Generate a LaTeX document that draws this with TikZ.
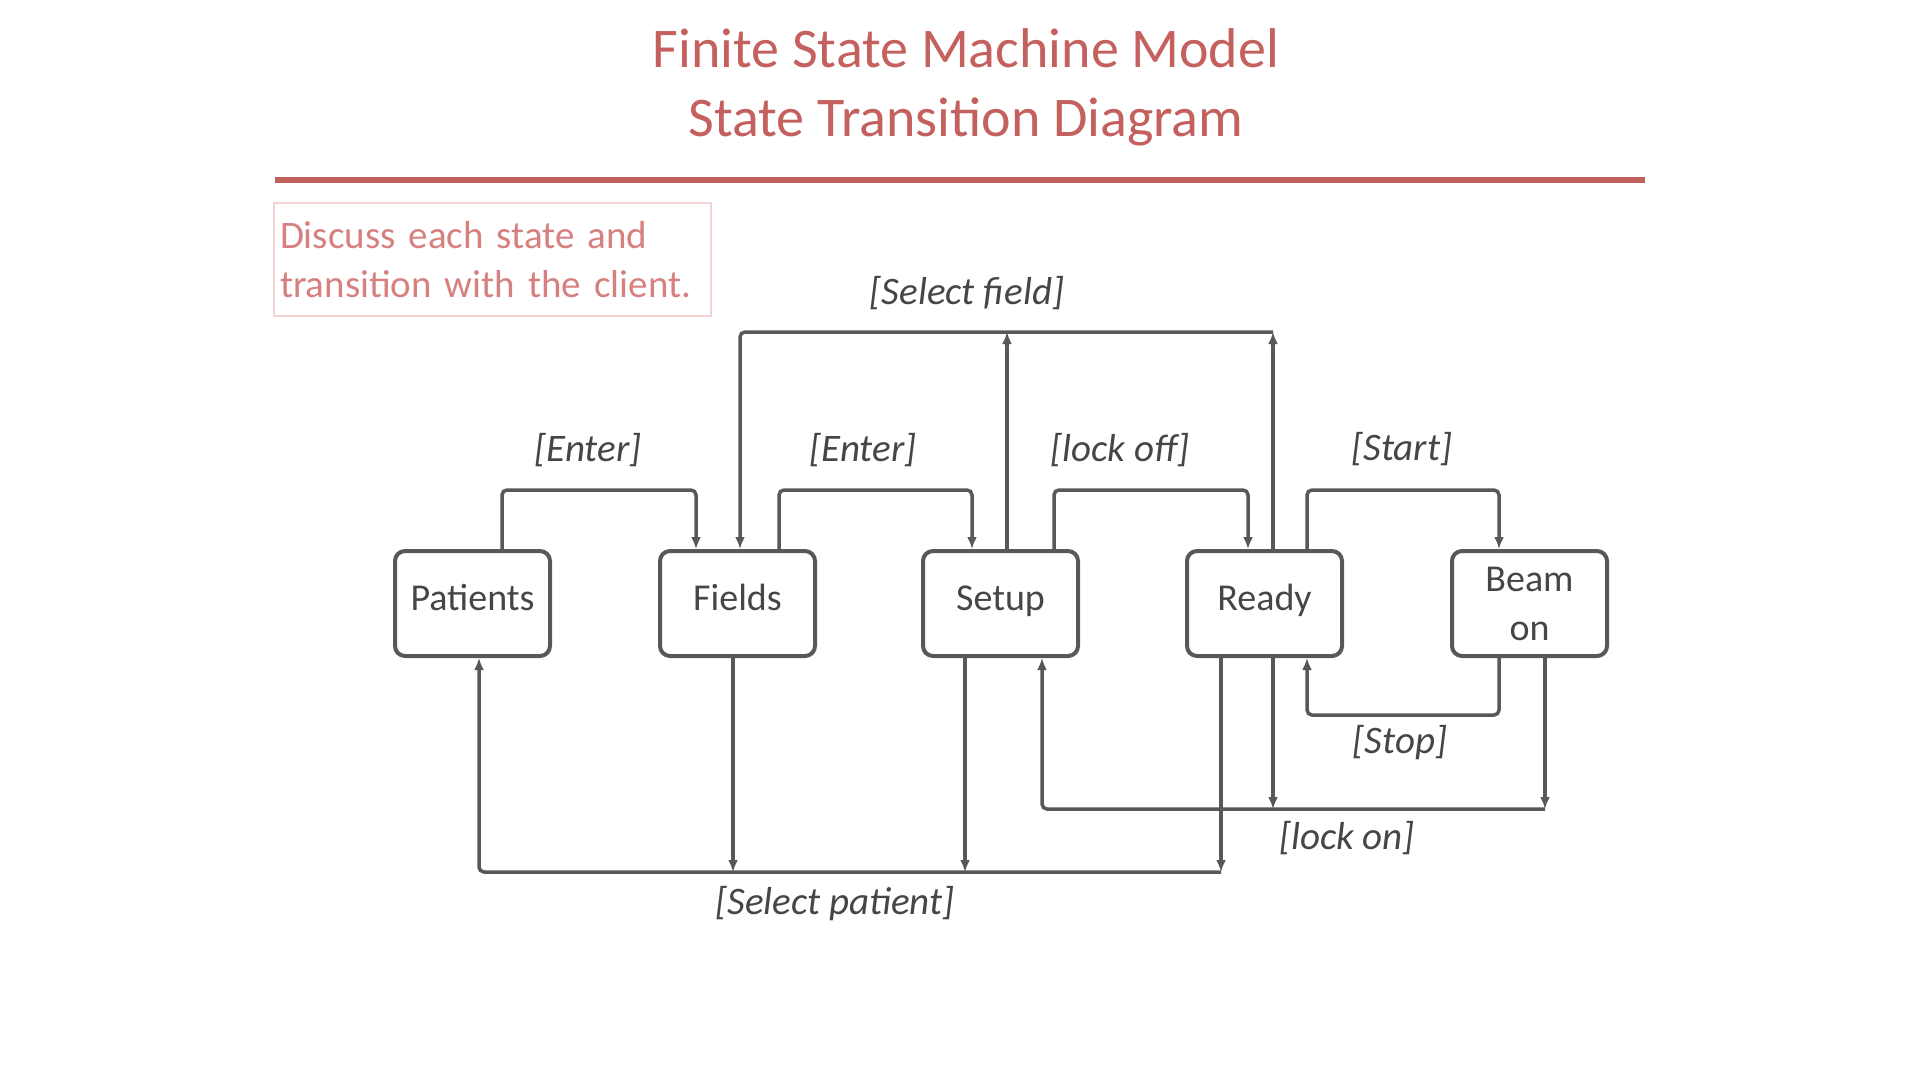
\documentclass[tikz,border=0pt]{standalone}
\usepackage{fontspec}
\setmainfont{Carlito}
\usetikzlibrary{arrows.meta}
\definecolor{titlered}{RGB}{196,96,94}
\definecolor{rulered}{RGB}{192,98,92}
\definecolor{notered}{RGB}{214,128,128}
\definecolor{noteborder}{RGB}{242,212,212}
\definecolor{linegray}{RGB}{88,88,88}
\definecolor{textgray}{RGB}{70,70,70}
\begin{document}
\begin{tikzpicture}[x=1pt,y=-1pt,
  state/.style={draw=linegray, line width=4pt, rounded corners=10pt, minimum width=155pt, minimum height=105pt, inner sep=0pt, font=\fontsize{38}{49}\selectfont, text=textgray, align=center},
  oneline/.style={text height=25pt, text depth=12pt},
  conn/.style={draw=linegray, line width=3.5pt, rounded corners=5pt},
  arrowed/.style={-{Latex[length=12pt,width=10pt]}},
  lbl/.style={font=\fontsize{39}{44}\selectfont\itshape, text=textgray},
  titletext/.style={font=\fontsize{56}{68}\selectfont, text=titlered, anchor=base}
]
\useasboundingbox[fill=white] (0,0) rectangle (1920,1080);

% title
\node[titletext] (title1) at (966,67) {Finite State Machine Model};
\node[titletext] (title2) at (966,136) {State Transition Diagram};
\draw[rulered, line width=6pt] (275,180) -- (1645,180);

% note
\node[draw=noteborder, line width=2pt, anchor=north west, minimum width=437pt, minimum height=113pt,
      text width=425pt, inner xsep=6pt, align=left, font=\fontsize{39}{49}\selectfont, text=notered]
      (note) at (273,202) {Discuss each state and\\transition with the client.};

% states
\node[state,oneline] (pat)  at (472.5,603.5) {Patients};
\node[state,oneline] (fld)  at (737.5,603.5) {Fields};
\node[state,oneline] (set)  at (1000.5,603.5) {Setup};
\node[state,oneline] (rdy)  at (1264.5,603.5) {Ready};
\node[state] (beam) at (1529.5,603.5) {Beam\\on};

% top Enter / lock off / Start
\coordinate (e1) at (600,490);
\coordinate (e2) at (870,490);
\coordinate (e3) at (1150,490);
\coordinate (e4) at (1400,490);
\draw[conn,arrowed] ([xshift=29.5pt]pat.north) |- (e1) -| ([xshift=-41.5pt]fld.north);
\draw[conn,arrowed] ([xshift=41.5pt]fld.north) |- (e2) -| ([xshift=-28.5pt]set.north);
\draw[conn,arrowed] ([xshift=53.5pt]set.north) |- (e3) -| ([xshift=-16.5pt]rdy.north);
\draw[conn,arrowed] ([xshift=42.5pt]rdy.north) |- (e4) -| ([xshift=-30.5pt]beam.north);

% Select field
\coordinate (sfR) at (1273,332);
\coordinate (sfM) at (1007,332);
\coordinate (sfL) at (740,332);
\draw[conn,arrowed] ([xshift=8.5pt]rdy.north) -- (sfR);
\draw[conn,arrowed] ([xshift=6.5pt]set.north) -- (sfM);
\draw[conn,arrowed] (sfR) -- (sfL) -- ([xshift=2.5pt]fld.north);

% Select patient
\coordinate (spR) at (1221,872);
\coordinate (spF) at (733,872);
\coordinate (spS) at (965,872);
\coordinate (spL) at (479,872);
\draw[conn,arrowed] ([xshift=-43.5pt]rdy.south) -- (spR);
\draw[conn,arrowed] ([xshift=-4.5pt]fld.south) -- (spF);
\draw[conn,arrowed] ([xshift=-35.5pt]set.south) -- (spS);
\draw[conn,arrowed] (spR) -- (spL) -- ([xshift=6.5pt]pat.south);

% lock on
\coordinate (loR) at (1545,809);
\coordinate (loM) at (1273,809);
\coordinate (loL) at (1042,809);
\draw[conn,arrowed] ([xshift=15.5pt]beam.south) -- (loR);
\draw[conn,arrowed] ([xshift=8.5pt]rdy.south) -- (loM);
\draw[conn,arrowed] (loR) -- (loL) -- ([xshift=41.5pt]set.south);

% Stop
\coordinate (stR) at (1499,715);
\coordinate (stL) at (1307,715);
\draw[conn,arrowed] ([xshift=-30.5pt]beam.south) -- (stR) -- (stL) -- ([xshift=42.5pt]rdy.south);

% labels
\node[lbl] (lbe1) at (588,450.5) {[Enter]};
\node[lbl] (lbe2) at (863,450.5) {[Enter]};
\node[lbl] (lblo) at (1120,450.5) {[lock off]};
\node[lbl] (lbst) at (1402,449.5) {[Start]};
\node[lbl] (lbsf) at (967,293.5) {[Select field]};
\node[lbl] (lbsp) at (835,903.5) {[Select patient]};
\node[lbl] (lbln) at (1347,838.5) {[lock on]};
\node[lbl] (lbstop) at (1400,742.5) {[Stop]};
\end{tikzpicture}
\end{document}
